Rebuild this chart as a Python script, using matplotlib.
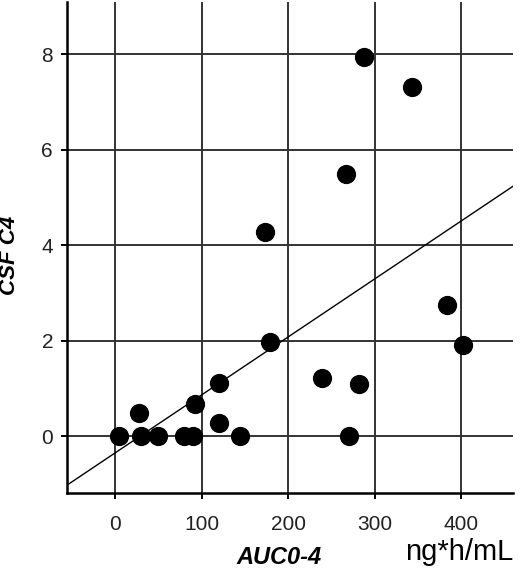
import matplotlib
matplotlib.use("Agg")
import matplotlib.pyplot as plt
import numpy as np

auc = [4, 27, 30, 49, 79, 90, 92.5, 119.5, 119.5, 144.5, 173.4, 179, 239, 267, 270, 282, 288, 343, 383.5, 402]
csf = [0, 0.49, 0, 0, 0, 0, 0.67, 1.12, 0.28, 0, 4.29, 1.97, 1.21, 5.50, 0, 1.10, 7.94, 7.32, 2.76, 1.92]
xticks = [0, 100, 200, 300, 400]
yticks = [0, 2, 4, 6, 8]

fig = plt.figure(figsize=(5.2, 5.71), dpi=100)
ax = fig.add_axes([67/520, 78/571, 446/520, 491/571])
ax.set_xlim(-56, 460)
ax.set_ylim(-1.19, 9.1)

for s in ['top', 'right']:
    ax.spines[s].set_visible(False)
for s in ['left', 'bottom']:
    ax.spines[s].set_linewidth(1.8)
    ax.spines[s].set_color('black')

ax.set_xticks(xticks)
ax.set_yticks(yticks)
ax.grid(True, color='#333333', linewidth=1.4)
ax.set_axisbelow(True)
ax.tick_params(direction='out', length=4, width=1.4, labelsize=15, colors='black')
ax.tick_params(axis='y', pad=6)
ax.tick_params(axis='x', pad=12)
for lab in ax.get_xticklabels() + ax.get_yticklabels():
    lab.set_fontfamily('Liberation Sans')
    lab.set_color('#222222')

x = np.array(auc)
y = np.array(csf)
m, b = np.polyfit(x, y, 1)
xl = np.array(ax.get_xlim())
ax.plot(xl, m * xl + b, color='black', linewidth=1.0, zorder=2)

ax.scatter(x, y, s=165, color='black', zorder=3, clip_on=False)

fig.text(279/520, 1 - 557/571, 'AUC0-4', fontsize=17, fontweight='bold', fontstyle='italic',
         family='Liberation Sans', ha='center', va='center')
fig.text(459/520, 1 - 552/571, 'ng*h/mL', fontsize=21, family='Liberation Sans',
         ha='center', va='center')
fig.text(10/520, 1 - 255/571, 'CSF C4', fontsize=16, fontweight='bold', fontstyle='italic',
         family='Liberation Sans', ha='center', va='center', rotation=90)

fig.savefig('out.png', dpi=100)
